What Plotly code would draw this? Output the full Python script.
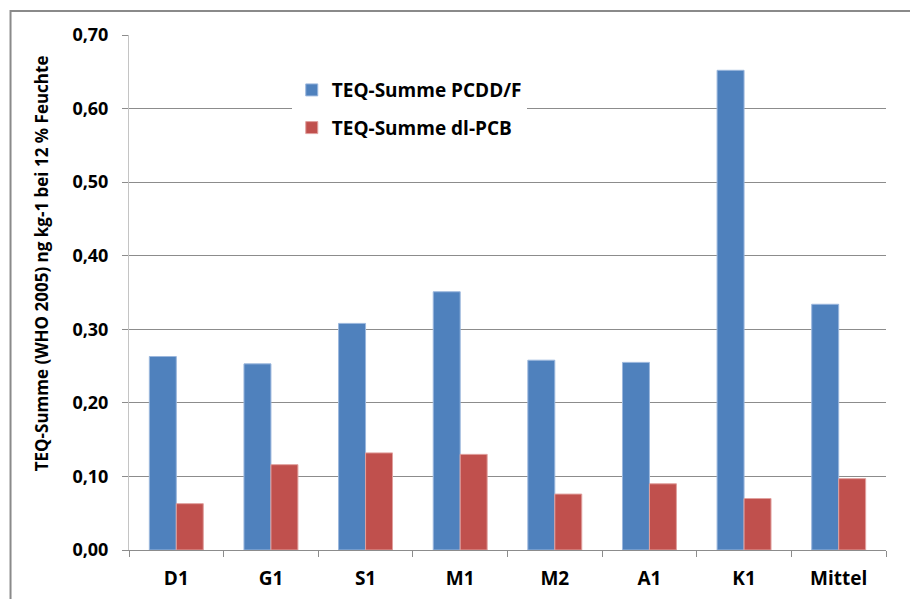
import plotly.graph_objects as go

# TEQ sums per sample site (ng/kg at 12 % moisture)
categories = ["D1", "G1", "S1", "M1", "M2", "A1", "K1", "Mittel"]
pcdd_f = [0.263, 0.253, 0.308, 0.351, 0.258, 0.255, 0.652, 0.334]
dl_pcb = [0.063, 0.116, 0.132, 0.130, 0.076, 0.090, 0.070, 0.097]
y_ticks = [0.0, 0.1, 0.2, 0.3, 0.4, 0.5, 0.6, 0.7]

FONT = "Open Sans"
BLUE = "#4F81BD"
RED = "#C0504D"
GRID = "#8c8c8c"

fig = go.Figure()
fig.add_trace(go.Bar(
    x=categories, y=pcdd_f, name="TEQ-Summe PCDD/F",
    marker=dict(color=BLUE, line=dict(color="#9bb7dd", width=1)),
    legendgroup="a",
))
fig.add_trace(go.Bar(
    x=categories, y=dl_pcb, name="TEQ-Summe dl-PCB",
    marker=dict(color=RED, line=dict(color="#e0a09e", width=1)),
    legendgroup="b",
))

fig.update_layout(
    width=910, height=599,
    margin=dict(l=129, r=24, t=35, b=49, autoexpand=False),
    paper_bgcolor="white", plot_bgcolor="white",
    separators=",.",
    barmode="group", bargap=0.43, bargroupgap=0,
    font=dict(family=FONT, size=17, color="black", weight="bold"),
    showlegend=True,
    legend=dict(
        x=0.215, y=0.93, xanchor="left", yanchor="top",
        bgcolor="white", borderwidth=0,
        font=dict(family=FONT, size=19, color="black", weight="bold"),
        tracegroupgap=10,
    ),
    xaxis=dict(
        type="category", tickson="boundaries", automargin=False,
        ticks="outside", ticklen=6, tickcolor=GRID, tickwidth=1,
        showline=True, linecolor=GRID, linewidth=1,
        showgrid=False,
        tickfont=dict(family=FONT, size=19, color="black", weight="bold"),
        ticklabelstandoff=11,
    ),
    yaxis=dict(
        range=[0, 0.7], tickvals=y_ticks, tickformat=".2f", automargin=False,
        ticks="outside", ticklen=6, tickcolor=GRID, tickwidth=1,
        showline=True, linecolor="#c4c4c4", linewidth=1,
        showgrid=True, gridcolor=GRID, gridwidth=1,
        zeroline=False,
        tickfont=dict(family=FONT, size=18, color="black", weight="bold"),
        ticklabelstandoff=10,
    ),
    annotations=[dict(
        text="TEQ-Summe (WHO 2005) ng kg-1 bei 12 % Feuchte",
        xref="paper", yref="paper", x=-0.116, y=0.557,
        xanchor="center", yanchor="middle", textangle=-90, showarrow=False,
        font=dict(family=FONT, size=17, color="black", weight="bold"),
    )],
    shapes=[dict(
        type="rect", xref="paper", yref="paper",
        x0=-0.1565, x1=1.2, y0=-0.3, y1=1.0466,
        line=dict(color="#8a8a8a", width=2), fillcolor="rgba(0,0,0,0)",
        layer="below",
    )],
)

fig.write_html("out.html")
